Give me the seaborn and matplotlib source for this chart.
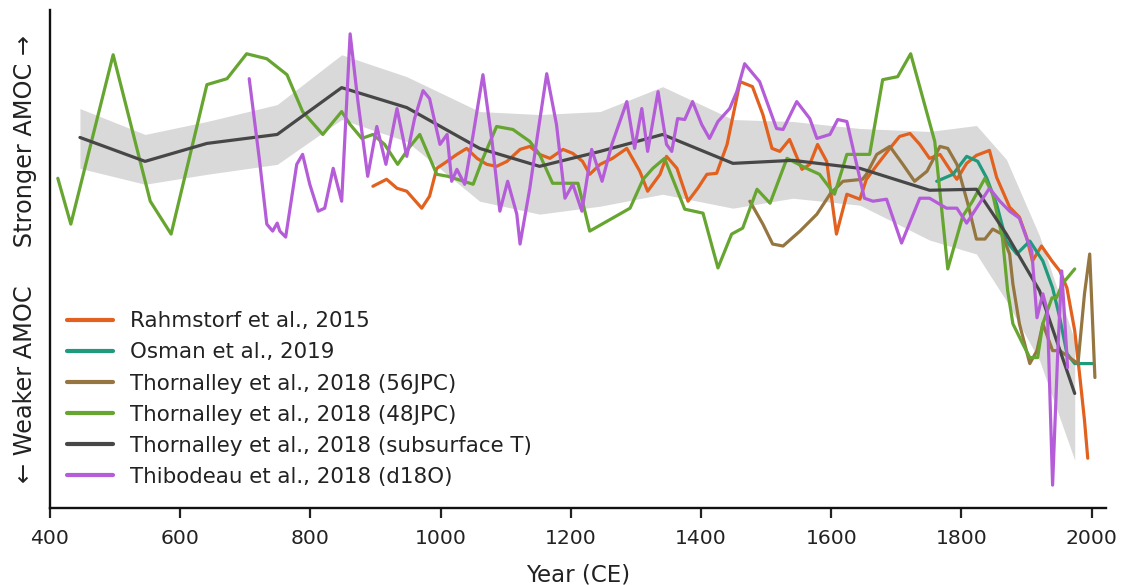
import numpy as np
import pandas as pd
import seaborn as sns
import matplotlib.pyplot as plt

# AMOC reconstructions (arbitrary index, higher = stronger)
rahm_year = [896, 917, 933, 948, 971, 983, 994, 1010, 1025, 1040, 1056, 1071, 1086, 1102, 1122,
             1137, 1152, 1168, 1188, 1203, 1218, 1229, 1245, 1264, 1286, 1306, 1318, 1337, 1347,
             1363, 1380, 1395, 1409, 1424, 1440, 1460, 1479, 1495, 1509, 1521, 1536, 1555, 1567,
             1579, 1593, 1608, 1624, 1644, 1654, 1671, 1690, 1705, 1721, 1736, 1751, 1767, 1782,
             1793, 1808, 1823, 1843, 1854, 1874, 1889, 1900, 1909, 1923, 1939, 1951, 1962, 1974,
             1982, 1989, 1994]
rahm_val = [64.6, 66.0, 64.2, 63.6, 60.2, 62.6, 68.2, 69.6, 71.0, 72.2, 70.2, 69.0, 68.6, 69.6, 72.0,
            72.6, 71.0, 70.2, 72.0, 71.2, 69.6, 67.0, 69.0, 70.2, 72.2, 67.6, 63.6, 67.0, 70.6,
            68.2, 61.6, 64.2, 67.0, 67.2, 73.0, 85.6, 84.6, 79.0, 72.2, 71.6, 74.0, 68.0, 69.0,
            73.0, 69.6, 55.0, 63.0, 62.0, 66.0, 69.0, 72.2, 74.6, 75.2, 73.0, 70.2, 71.0, 68.0,
            66.0, 69.2, 70.8, 71.8, 66.4, 60.4, 58.4, 54.4, 49.6, 52.6, 49.6, 47.6, 44.2, 35.6,
            26.2, 17.6, 10.0]

osman_year = [1762, 1787, 1808, 1825, 1839, 1854, 1869, 1885, 1905, 1925, 1940, 1951, 1962, 1974,
              1986, 2002]
osman_val = [65.6, 67.0, 70.6, 69.6, 66.2, 61.0, 53.6, 51.0, 53.6, 49.6, 44.2, 38.2, 31.0, 29.0,
             29.0, 29.0]

jpc56_year = [1475, 1495, 1510, 1526, 1552, 1578, 1598, 1618, 1648, 1654, 1670, 1690, 1710, 1728,
              1747, 1767, 1779, 1793, 1810, 1823, 1836, 1848, 1862, 1874, 1879, 1889, 1905, 1916,
              1925, 1940, 1951, 1966, 1979, 1989, 1997, 2005]
jpc56_val = [61.6, 57.0, 53.0, 52.6, 55.6, 59.0, 63.0, 65.6, 66.0, 67.0, 71.0, 72.6, 69.0, 65.6,
             67.6, 72.6, 72.2, 69.0, 61.0, 54.0, 54.0, 56.0, 55.0, 51.0, 45.0, 37.0, 29.0, 31.6,
             37.0, 31.6, 31.6, 30.2, 29.0, 43.0, 51.0, 26.2]

jpc48_year = [412, 432, 497, 554, 586, 641, 672, 702, 733, 764, 788, 819, 848, 861, 879, 896, 914,
              934, 953, 968, 994, 1011, 1050, 1065, 1086, 1111, 1137, 1152, 1172, 1211, 1229, 1291,
              1311, 1326, 1344, 1375, 1403, 1426, 1447, 1464, 1486, 1506, 1532, 1562, 1582, 1605,
              1624, 1659, 1679, 1702, 1722, 1759, 1779, 1802, 1817, 1836, 1848, 1863, 1871, 1879,
              1894, 1905, 1917, 1925, 1939, 1946, 1955, 1974]
jpc48_val = [66.2, 57.0, 91.0, 61.6, 55.0, 85.0, 86.2, 91.2, 90.2, 87.0, 79.6, 75.0, 79.6, 77.0,
             74.2, 75.0, 73.0, 69.0, 72.6, 75.0, 67.0, 66.6, 65.0, 70.2, 76.6, 76.0, 73.6, 71.0,
             65.2, 65.2, 55.6, 60.2, 66.0, 68.2, 70.2, 60.0, 59.2, 48.2, 55.0, 56.2, 64.0, 61.2,
             70.2, 68.2, 67.0, 63.0, 71.0, 71.0, 86.0, 86.6, 91.2, 73.6, 48.0, 58.6, 61.6, 66.2,
             63.0, 54.2, 43.6, 37.0, 33.0, 30.2, 30.2, 37.0, 42.2, 42.2, 45.0, 48.0]

subT_year = [446, 546, 641, 749, 848, 948, 1060, 1152, 1245, 1341, 1449, 1541, 1644, 1751, 1823,
             1869, 1920, 1974]
subT_val = [74.4, 69.6, 73.2, 75.0, 84.4, 80.4, 72.2, 68.6, 71.6, 75.0, 69.2, 69.8, 68.2, 63.8,
            64.0, 55.0, 43.6, 23.0]
subT_lo = [68.2, 65.0, 67.0, 69.0, 78.0, 73.6, 61.6, 59.0, 60.6, 63.0, 60.2, 62.2, 60.8, 53.8,
           51.0, 41.6, 29.6, 9.6]
subT_hi = [80.2, 75.0, 77.6, 81.0, 91.0, 86.6, 79.6, 79.0, 79.6, 84.6, 78.0, 77.6, 76.2, 75.6,
           76.8, 70.0, 54.6, 33.6]

thib_year = [706, 722, 733, 742, 749, 753, 762, 779, 788, 799, 812, 822, 835, 848, 861, 873, 888,
             902, 916, 933, 948, 960, 973, 983, 999, 1010, 1017, 1025, 1037, 1050, 1065, 1079,
             1091, 1103, 1117, 1122, 1137, 1149, 1163, 1178, 1191, 1203, 1217, 1232, 1248, 1263,
             1286, 1298, 1309, 1318, 1334, 1347, 1355, 1364, 1375, 1387, 1401, 1413, 1426, 1444,
             1455, 1467, 1490, 1516, 1526, 1547, 1567, 1578, 1598, 1610, 1624, 1639, 1651, 1664,
             1685, 1708, 1736, 1751, 1777, 1793, 1808, 1823, 1843, 1859, 1874, 1889, 1900, 1908,
             1916, 1925, 1932, 1940, 1948, 1954, 1959, 1963]
thib_val = [86.2, 69.6, 57.0, 55.6, 57.2, 55.6, 54.4, 69.0, 71.0, 65.0, 59.6, 60.2, 68.2, 61.6,
            95.2, 81.6, 66.6, 76.6, 69.0, 80.2, 70.6, 78.2, 83.8, 82.2, 73.0, 75.0, 65.6, 68.0,
            65.0, 75.0, 87.0, 73.6, 59.6, 65.6, 59.0, 53.0, 64.2, 75.0, 87.2, 77.0, 62.2, 65.0,
            59.6, 72.0, 65.6, 73.0, 81.6, 72.2, 80.2, 71.6, 83.6, 73.0, 71.6, 78.2, 78.0, 81.6,
            77.0, 74.2, 77.6, 80.2, 83.6, 89.2, 85.6, 76.2, 76.0, 81.6, 78.2, 74.2, 75.0, 78.0,
            77.6, 69.0, 62.2, 61.6, 62.0, 53.2, 62.2, 62.2, 60.2, 60.2, 57.2, 60.2, 64.2, 61.6,
            59.6, 58.2, 54.2, 51.6, 38.2, 43.0, 39.6, 4.6, 31.6, 47.6, 37.0, 28.2]

series = [
    ("Rahmstorf et al., 2015", rahm_year, rahm_val, "#e2611f"),
    ("Osman et al., 2019", osman_year, osman_val, "#1f9a7c"),
    ("Thornalley et al., 2018 (56JPC)", jpc56_year, jpc56_val, "#957640"),
    ("Thornalley et al., 2018 (48JPC)", jpc48_year, jpc48_val, "#67a531"),
    ("Thornalley et al., 2018 (subsurface T)", subT_year, subT_val, "#474747"),
    ("Thibodeau et al., 2018 (d18O)", thib_year, thib_val, "#b55dd8"),
]

sns.set_style("ticks")
plt.rcParams['font.family'] = ['DejaVu Sans']

fig = plt.figure(figsize=(11.21, 5.85), dpi=100)
ax = fig.add_axes([0.0446, 0.1316, 0.942, 0.8514])

# uncertainty band for the subsurface temperature record
ax.fill_between(subT_year, subT_lo, subT_hi, color="#d9d9d9", lw=0, zorder=1)

for name, yrs, vals, col in series:
    df = pd.DataFrame({"year": yrs, "amoc": vals})
    sns.lineplot(data=df, x="year", y="amoc", color=col, lw=2.3, label=name,
                 sort=False, estimator=None, ax=ax, zorder=2)

ax.set_xlim(400, 2022)
ax.set_ylim(0, 100)
ax.set_xticks(np.arange(400, 2001, 200))
ax.set_yticks([])
ax.tick_params(axis='x', labelsize=14.7, length=7, width=1.6, pad=8, colors='#222222')
for s in ["left", "bottom"]:
    ax.spines[s].set_linewidth(1.7)
    ax.spines[s].set_color('#111111')
sns.despine(ax=ax)

ax.set_xlabel("Year (CE)", fontsize=16.5, labelpad=11, color='#222222')
ax.set_ylabel("\u2190 Weaker AMOC     Stronger AMOC \u2192", fontsize=17.3, labelpad=9,
              color='#222222')

leg = ax.legend(loc="lower left", bbox_to_anchor=(0.0, 0.008), frameon=False,
                fontsize=15.4, handlelength=2.15, labelspacing=0.52, handletextpad=0.8,
                borderaxespad=0.4)
for line in leg.get_lines():
    line.set_linewidth(3)
for t in leg.get_texts():
    t.set_color('#222222')

fig.savefig("out.png", dpi=100)
